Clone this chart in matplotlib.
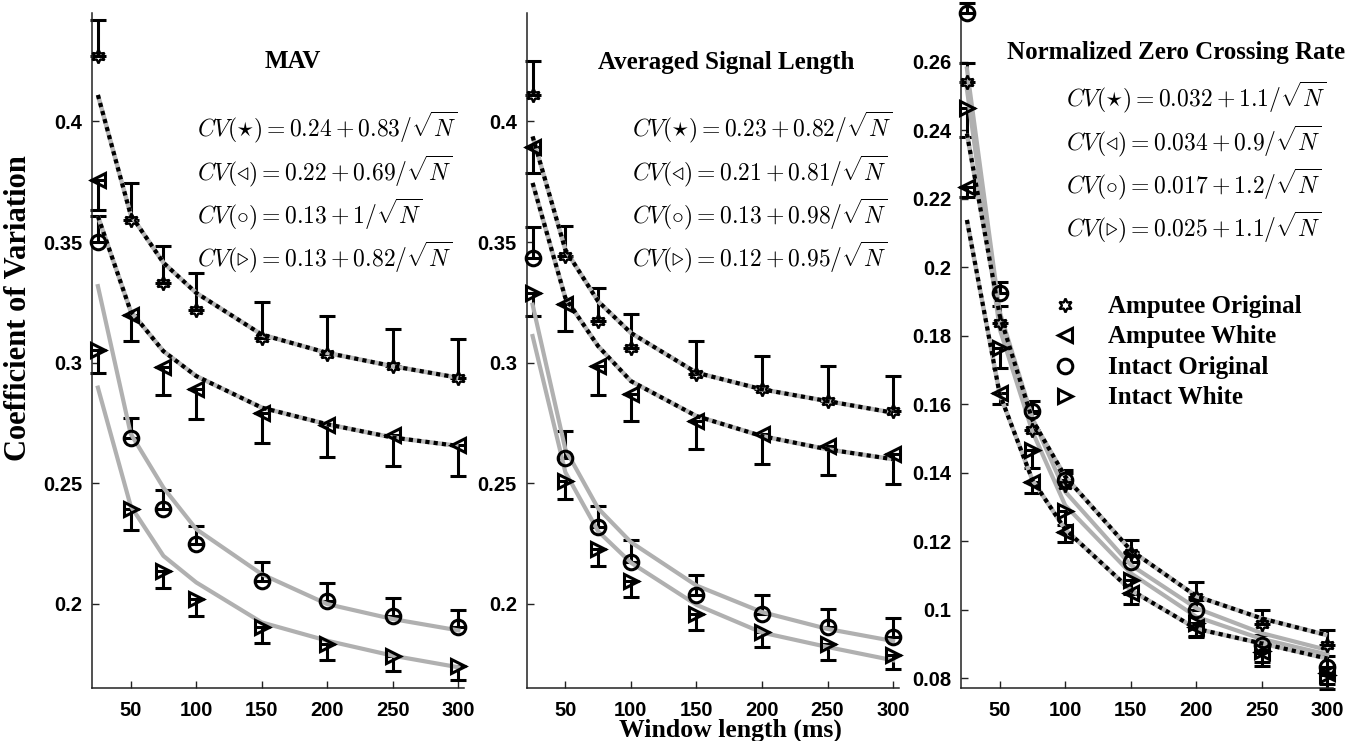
import matplotlib
matplotlib.use("Agg")
import matplotlib.pyplot as plt
import numpy as np

plt.rcParams['mathtext.fontset'] = 'cm'

# ---------------- data ----------------
window_ms = [25, 50, 75, 100, 150, 200, 250, 300]
x_ticks = [50, 100, 150, 200, 250, 300]

panel_titles = ["MAV", "Averaged Signal Length", "Normalized Zero Crossing Rate"]
series_names = ["Amputee Original", "Amputee White", "Intact Original", "Intact White"]

# MAV
mav_amp_orig = [0.427, 0.3593, 0.333, 0.322, 0.3103, 0.3034, 0.2985, 0.2937]
mav_amp_orig_err = [0.015, 0.015, 0.0155, 0.015, 0.015, 0.016, 0.0155, 0.016]
mav_amp_white = [0.3758, 0.3199, 0.298, 0.2889, 0.2792, 0.2739, 0.270, 0.2657]
mav_amp_white_err = [0.0124, 0.011, 0.0116, 0.0125, 0.0127, 0.013, 0.013, 0.0127]
mav_int_orig = [0.350, 0.2689, 0.2391, 0.2247, 0.2095, 0.2009, 0.195, 0.1901]
mav_int_orig_err = [0.011, 0.0082, 0.008, 0.0075, 0.0076, 0.0076, 0.0072, 0.0073]
mav_int_white = [0.3054, 0.2391, 0.2136, 0.2019, 0.1901, 0.1832, 0.1784, 0.1742]
mav_int_white_err = [0.0096, 0.0085, 0.007, 0.0069, 0.0065, 0.0065, 0.0062, 0.006]
# fitted curves as drawn
mav_fit_amp_orig = [0.411, 0.3613, 0.3414, 0.3289, 0.3116, 0.304, 0.2985, 0.2937]
mav_fit_amp_white = [0.3607, 0.3213, 0.3047, 0.2944, 0.2813, 0.2744, 0.2689, 0.2654]
mav_fit_int_orig = [0.3317, 0.2705, 0.2481, 0.2309, 0.2122, 0.1998, 0.1936, 0.1889]
mav_fit_int_white = [0.2896, 0.2405, 0.2198, 0.2088, 0.1922, 0.1846, 0.1784, 0.1736]
mav_fit_text = ["0.24 + 0.83", "0.22 + 0.69", "0.13 + 1", "0.13 + 0.82"]

# Averaged Signal Length
asl_amp_orig = [0.411, 0.3441, 0.3171, 0.3061, 0.2951, 0.2889, 0.284, 0.2799]
asl_amp_orig_err = [0.014, 0.0124, 0.014, 0.014, 0.0138, 0.014, 0.0145, 0.0145]
asl_amp_white = [0.3896, 0.3241, 0.2985, 0.2868, 0.2757, 0.2702, 0.2654, 0.2619]
asl_amp_white_err = [0.011, 0.011, 0.012, 0.011, 0.0114, 0.0124, 0.012, 0.0124]
asl_int_orig = [0.3434, 0.2606, 0.2316, 0.2173, 0.2035, 0.1957, 0.1901, 0.1862]
asl_int_orig_err = [0.013, 0.011, 0.009, 0.009, 0.0083, 0.0078, 0.0076, 0.0077]
asl_int_white = [0.3289, 0.2509, 0.2226, 0.2095, 0.1957, 0.1881, 0.1832, 0.1787]
asl_int_white_err = [0.0097, 0.0076, 0.007, 0.0069, 0.0065, 0.0062, 0.0065, 0.006]
asl_fit_amp_orig = [0.3938, 0.3468, 0.3254, 0.3123, 0.2958, 0.2889, 0.284, 0.2792]
asl_fit_amp_white = [0.3745, 0.3268, 0.3068, 0.2923, 0.2778, 0.2695, 0.264, 0.2599]
asl_fit_int_orig = [0.324, 0.264, 0.2395, 0.2255, 0.2075, 0.1965, 0.1895, 0.1845]
asl_fit_int_white = [0.311, 0.2545, 0.230, 0.217, 0.1995, 0.188, 0.182, 0.1765]
asl_fit_text = ["0.23 + 0.82", "0.21 + 0.81", "0.13 + 0.98", "0.12 + 0.95"]

# Normalized Zero Crossing Rate
zcr_amp_orig = [0.2542, 0.1836, 0.1525, 0.1365, 0.1165, 0.1038, 0.0958, 0.0897]
zcr_amp_orig_err = [0.0055, 0.005, 0.005, 0.0035, 0.004, 0.0044, 0.0042, 0.0044]
zcr_amp_white = [0.2235, 0.1632, 0.1372, 0.1228, 0.1048, 0.0951, 0.0877, 0.0815]
zcr_amp_white_err = [0.003, 0.003, 0.003, 0.003, 0.003, 0.003, 0.003, 0.003]
zcr_int_orig = [0.2741, 0.1926, 0.158, 0.1378, 0.114, 0.100, 0.0898, 0.0834]
zcr_int_orig_err = [0.003, 0.003, 0.003, 0.003, 0.003, 0.003, 0.003, 0.003]
zcr_int_white = [0.2464, 0.1765, 0.1467, 0.1289, 0.1087, 0.0963, 0.088, 0.081]
zcr_int_white_err = [0.0083, 0.0058, 0.0054, 0.004, 0.004, 0.004, 0.0044, 0.004]
zcr_fit_amp_orig = [0.239, 0.186, 0.1554, 0.1389, 0.1174, 0.104, 0.0975, 0.0926]
zcr_fit_amp_white = [0.2138, 0.163, 0.1379, 0.1235, 0.1058, 0.0945, 0.0902, 0.0858]
zcr_fit_int_orig = [0.258, 0.187, 0.156, 0.1345, 0.1131, 0.1005, 0.0932, 0.0883]
zcr_fit_int_white = [0.252, 0.182, 0.152, 0.1305, 0.1107, 0.098, 0.0915, 0.087]
zcr_fit_text = ["0.032 + 1.1", "0.034 + 0.9", "0.017 + 1.2", "0.025 + 1.1"]

mav_yticks = [0.2, 0.25, 0.3, 0.35, 0.4]
asl_yticks = [0.2, 0.25, 0.3, 0.35, 0.4]
zcr_yticks = [0.08, 0.1, 0.12, 0.14, 0.16, 0.18, 0.2, 0.22, 0.24, 0.26]

# ---------------- layout ----------------
W, H = 1371, 741
fig = plt.figure(figsize=(W / 100, H / 100), dpi=100)

def fx(px):
    return px / W

def fy(py):
    return 1 - py / H

ax_left_px = [92, 526.7, 961]
ax_w_px = 372
ax_top_px, ax_bot_px = 13, 688
xlims = (20.5, 304.3)
ylims = [(0.165, 0.445), (0.165, 0.445), (0.0772, 0.2742)]

panels = [
    ([mav_amp_orig, mav_amp_white, mav_int_orig, mav_int_white],
     [mav_amp_orig_err, mav_amp_white_err, mav_int_orig_err, mav_int_white_err],
     [mav_fit_amp_orig, mav_fit_amp_white, mav_fit_int_orig, mav_fit_int_white],
     mav_fit_text, mav_yticks),
    ([asl_amp_orig, asl_amp_white, asl_int_orig, asl_int_white],
     [asl_amp_orig_err, asl_amp_white_err, asl_int_orig_err, asl_int_white_err],
     [asl_fit_amp_orig, asl_fit_amp_white, asl_fit_int_orig, asl_fit_int_white],
     asl_fit_text, asl_yticks),
    ([zcr_amp_orig, zcr_amp_white, zcr_int_orig, zcr_int_white],
     [zcr_amp_orig_err, zcr_amp_white_err, zcr_int_orig_err, zcr_int_white_err],
     [zcr_fit_amp_orig, zcr_fit_amp_white, zcr_fit_int_orig, zcr_fit_int_white],
     zcr_fit_text, zcr_yticks),
]

markers = [(6, 1, 0), '<', 'o', '>']
msizes = [10, 10, 10.5, 10]
mews = [1.7, 2.2, 2.2, 2.2]
err_up = [True, False, True, False]
sym_tex = [r'\star', r'\triangleleft', r'\circ', r'\triangleright']

title_pos = [(293, 62), (726, 62), (1176, 52)]
eq_pos = [(197, [136.7, 180, 223.3, 266.7]),
          (632, [136.7, 180, 223.3, 266.7]),
          (1066, [106.7, 150, 193.3, 236.7])]

serif = 'Liberation Serif'
sans = 'Liberation Sans'
x = np.array(window_ms, dtype=float)

for pi, (ys, errs, fits, fit_txt, yticks) in enumerate(panels):
    ax = fig.add_axes([fx(ax_left_px[pi]), fy(ax_bot_px), fx(ax_w_px),
                       (ax_bot_px - ax_top_px) / H])
    ax.set_xlim(*xlims)
    ax.set_ylim(*ylims[pi])
    for s in ['top', 'right']:
        ax.spines[s].set_visible(False)
    for s in ['left', 'bottom']:
        ax.spines[s].set_linewidth(1.1)
        ax.spines[s].set_color('#222222')
    ax.set_xticks(x_ticks)
    ax.set_xticklabels([str(t) for t in x_ticks])
    ax.set_yticks(yticks)
    ax.set_yticklabels(['%g' % t for t in yticks])
    ax.tick_params(axis='both', direction='in', length=5, width=1, color='#222222')
    ax.tick_params(axis='x', pad=9)
    ax.tick_params(axis='y', pad=7)
    for lab in ax.get_xticklabels() + ax.get_yticklabels():
        lab.set_fontfamily(sans)
        lab.set_fontweight('bold')
        lab.set_fontsize(14.5)

    for si in range(4):
        yv = np.array(ys[si])
        ev = np.array(errs[si])
        zero = np.zeros_like(ev)
        yerr = [zero, ev] if err_up[si] else [ev, zero]
        ax.errorbar(x, yv, yerr=yerr, fmt='none', ecolor='black',
                    elinewidth=2.2, capsize=5.5, capthick=2.2, zorder=2,
                    clip_on=False)
        ax.plot(x, yv, linestyle='none', marker=markers[si], ms=msizes[si],
                mfc='none', mec='black', mew=mews[si], zorder=4, clip_on=False)
        fitv = np.array(fits[si])
        if si < 2:
            ax.plot(x, fitv, color='#b8b8b8', lw=3.2, zorder=3, solid_capstyle='butt')
            ax.plot(x, fitv, color='black', lw=3.0, linestyle=(0, (1.0, 1.0)),
                    zorder=3.1)
        else:
            ax.plot(x, fitv, color='#b0b0b0', lw=3.0, zorder=3)

    tx, ty = title_pos[pi]
    fig.text(fx(tx), fy(ty), panel_titles[pi], ha='center', va='center',
             fontfamily=serif, fontweight='bold', fontsize=18)
    ex, eys = eq_pos[pi]
    for si in range(4):
        s = r'$CV(%s) = %s/\sqrt{N}$' % (sym_tex[si], fit_txt[si])
        fig.text(fx(ex), fy(eys[si]), s, ha='left', va='baseline', fontsize=17)

# legend (panel 3)
leg_base = [313, 343, 374, 404]
for si in range(4):
    fig.text(fx(1108), fy(leg_base[si]), series_names[si], ha='left',
             va='baseline', fontfamily=serif, fontweight='bold', fontsize=18)
    fig.add_artist(plt.Line2D([fx(1065)], [fy(leg_base[si] - 8)],
                              transform=fig.transFigure, linestyle='none',
                              marker=markers[si], ms=msizes[si], mfc='none',
                              mec='black', mew=mews[si]))

fig.text(fx(19), fy(308), 'Coefficient of Variation', rotation=90,
         ha='center', va='center', fontfamily=serif, fontweight='bold', fontsize=22)
fig.text(fx(730), fy(737), 'Window length (ms)', ha='center', va='baseline',
         fontfamily=serif, fontweight='bold', fontsize=18.5)

fig.savefig('out.png', dpi=100, facecolor='white')
